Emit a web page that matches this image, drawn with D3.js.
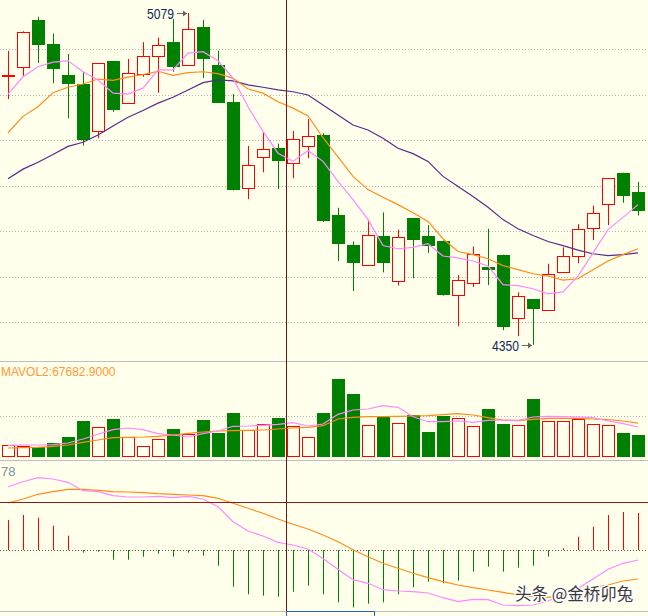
<!DOCTYPE html>
<html><head><meta charset="utf-8">
<script src="https://cdn.jsdelivr.net/npm/d3@7"></script>
<style>html,body{margin:0;padding:0;background:#FFFFEC;overflow:hidden}</style>
</head><body><svg id="c" width="648" height="616"></svg>
<script>
// ---------- DATA ----------
const openArr  = [4940,4960,5064,5011,4943,4923,4820,4974,4881,4945,4985,5015,4964,5048,4965,4884,4695,4763,4782,4749,4787,4811,4636,4570,4526,4588,4491,4629,4590,4579,4459,4486,4521,4548,4409,4450,4427,4510,4545,4607,4659,4728,4686];
const highArr  = [4996,5039,5071,5034,4989,4950,4969,4974,4978,5015,5025,5066,5079,5064,4996,4901,4787,4817,4792,4820,4846,4815,4651,4577,4625,4641,4603,4629,4613,4579,4503,4566,4605,4548,4465,4450,4528,4564,4615,4656,4716,4728,4708];
const lowArr   = [4890,4941,4969,4925,4848,4788,4804,4862,4881,4939,4904,4950,4964,4936,4882,4689,4670,4729,4692,4716,4760,4620,4534,4468,4526,4509,4480,4496,4552,4458,4391,4477,4481,4382,4369,4350,4427,4510,4529,4580,4613,4662,4634];
const closeArr = [4942,5037,5009,4957,4922,4800,4969,4865,4947,4984,5008,4961,5043,4977,4882,4691,4746,4780,4753,4802,4809,4621,4571,4529,4591,4529,4587,4580,4566,4460,4493,4550,4515,4389,4458,4428,4506,4545,4605,4640,4716,4678,4645];
const ma5  = [4901,4939,4961,4971,4974,4950,4932,4903,4901,4914,4954,4954,4991,4994,4974,4936,4873,4819,4771,4753,4777,4753,4709,4669,4625,4568,4561,4564,4572,4545,4541,4534,4523,4482,4480,4473,4462,4466,4501,4552,4603,4630,4658];
const ma10 = [4816,4852,4873,4904,4916,4923,4934,4931,4938,4944,4951,4942,4948,4950,4946,4936,4912,4903,4884,4870,4853,4805,4763,4720,4691,4674,4658,4640,4621,4583,4555,4548,4539,4524,4515,4506,4501,4492,4495,4515,4534,4548,4561];
const ma20 = [4715,4736,4751,4768,4786,4795,4811,4831,4850,4865,4881,4894,4910,4926,4932,4930,4921,4916,4910,4906,4899,4877,4855,4833,4822,4804,4782,4770,4753,4720,4698,4676,4652,4625,4605,4590,4577,4568,4558,4550,4546,4548,4552];
const volume = [24000,22000,19400,28000,40600,72000,60000,76000,39400,22000,36000,56600,46600,74000,48600,88000,54600,65400,78600,62000,40000,88000,156000,126000,63400,80600,67400,83400,50000,82600,78000,61400,96000,66000,63400,116000,71400,71400,75400,65400,63400,48000,44000];
const mavol1 = [23400,24000,24000,24600,28000,36000,45400,54600,58000,54600,46600,44000,40000,46600,52000,61400,62000,63400,65400,68600,62000,66000,85400,94000,96000,102600,99400,80600,70600,70600,72000,69400,73400,74000,73400,80000,81400,80600,80000,78600,72000,66600,60000];
const mavol2 = [18000,18600,19400,21400,24000,29400,34000,38600,39400,40000,41400,44000,47400,50000,52000,52600,53400,54000,56000,58000,59400,62600,76000,79400,80600,80600,81400,82000,82600,84600,86600,84000,78600,74000,72600,75400,77400,77400,77400,76000,74600,72000,67683];
const dif  = [63.6,68.6,72.6,71.3,68,59.6,58.6,54.6,53.3,53.3,54,52.6,54,51.3,43.6,28.6,19.3,14.3,8,5.3,1.3,-8.2,-19,-29.4,-33,-39.4,-40.7,-41.4,-42.7,-47.4,-51.4,-49,-49.4,-54.7,-55.4,-54.7,-50.7,-44.7,-38,-28.7,-19,-13,-9.7];
const dea  = [47.3,51.3,56,58.6,61,61,60,58.6,58.3,57.6,56.6,56,55.3,54.6,52,47,42,37,31.3,26,21.3,15.3,8.6,0.6,-6.4,-13,-18,-23,-27.4,-31.4,-34.7,-37.4,-39.7,-42,-44.7,-46.4,-47,-45.4,-41.4,-37.4,-34.7,-30.7,-28.7];
const macd = [30.3,35.3,32.6,24.6,14.6,-2.4,-1.4,-9.4,-9.4,-6.4,-3.4,-6.4,-2.4,-5.4,-15.4,-36.4,-44,-45.4,-46.4,-41.4,-35.4,-44,-52,-57,-53.4,-52,-44,-37,-31.4,-33,-30.4,-21.4,-16.4,-21.4,-17.4,-15.4,-6.4,2.3,13.6,23.6,35.3,38.3,37.3];
const priceTicks = [5000,4900,4800,4700,4600,4500,4400];
const volTicks = [82000];
const macdCross = 48;
const crossIndex = 18.5;
const mavolLabel = "MAVOL2:67682.9000";
const macdLabel = "78";
const watermark = "头条 @金桥卯兔";

// ---------- DRAW ----------
const W=648,H=616, BG="#FFFFEC", RED="#FF0000", GREEN="#008000";
const PINK="#FF88FF", ORANGE="#FF8C1A", PURPLE="#5A2A8C";
const svg=d3.select('#c');
svg.append('rect').attr('width',W).attr('height',H).attr('fill',BG);
const defs=svg.append('defs');
defs.append('clipPath').attr('id','cpP').append('rect').attr('x',0).attr('y',0).attr('width',W).attr('height',361);
defs.append('clipPath').attr('id','cpV').append('rect').attr('x',0).attr('y',362).attr('width',W).attr('height',98);
defs.append('clipPath').attr('id','cpM').append('rect').attr('x',0).attr('y',461).attr('width',W).attr('height',150);

const n=openArr.length, idx=d3.range(n);
const x=d3.scaleLinear().domain([0,n-1]).range([8,638]);
const yP=d3.scaleLinear().domain([4400,5000]).range([322,49]);
const yV=d3.scaleLinear().domain([0,190000]).range([457,362]);
const yM=d3.scaleLinear().domain([-60,90]).range([610.3,460.3]);
const px=i=>Math.round(x(i))+0.5;

// grid lines
svg.append('g').selectAll('line').data(priceTicks).join('line')
  .attr('x1',0).attr('x2',W).attr('y1',d=>Math.round(yP(d))+0.5).attr('y2',d=>Math.round(yP(d))+0.5)
  .attr('stroke','#B4B4B4').attr('stroke-dasharray','1,2');
svg.append('g').selectAll('line').data(volTicks).join('line')
  .attr('x1',0).attr('x2',W).attr('y1',d=>Math.round(yV(d))+0.5).attr('y2',d=>Math.round(yV(d))+0.5)
  .attr('stroke','#B4B4B4').attr('stroke-dasharray','1,2');
svg.append('line').attr('x1',0).attr('x2',W).attr('y1',Math.round(yM(0))+0.5).attr('y2',Math.round(yM(0))+0.5)
  .attr('stroke','#555').attr('stroke-dasharray','1,2');
// separators
[361.5,460.5,611.5].forEach(y=>svg.append('line').attr('x1',0).attr('x2',W).attr('y1',y).attr('y2',y).attr('stroke','#BEBEBE'));

// ---- price panel ----
const gP=svg.append('g').attr('clip-path','url(#cpP)');
const up=i=>closeArr[i]>=openArr[i];
gP.selectAll('line.wick').data(idx).join('line').attr('class','wick')
  .attr('x1',px).attr('x2',px).attr('y1',i=>yP(highArr[i])).attr('y2',i=>yP(lowArr[i]))
  .attr('stroke',i=>up(i)?RED:GREEN);
gP.selectAll('rect.body').data(idx).join('rect').attr('class','body')
  .each(function(i){
    const yt=Math.round(yP(Math.max(openArr[i],closeArr[i]))), yb=Math.round(yP(Math.min(openArr[i],closeArr[i])));
    const s=d3.select(this), h=Math.max(yb-yt,1);
    if(up(i)) s.attr('x',Math.round(x(i))-6+0.5).attr('y',yt+0.5).attr('width',12).attr('height',h).attr('fill',BG).attr('stroke',RED);
    else s.attr('x',Math.round(x(i))-6).attr('y',yt).attr('width',13).attr('height',h).attr('fill',GREEN);
  });
const lineP=d3.line().x(i=>x(i));
[[ma20,PURPLE],[ma10,ORANGE],[ma5,PINK]].forEach(([arr,col])=>{
  gP.append('path').datum(idx).attr('d',lineP.y(i=>yP(arr[i]))).attr('fill','none').attr('stroke',col).attr('stroke-width',1.2);
});
// annotations
function annot(i,val,ty){
  const ax=x(i), ay=Math.round(ty)+0.5;
  gP.append('text').attr('x',ax-14).attr('y',ay+5).attr('text-anchor','end')
    .attr('font-family','Liberation Sans, Arial, sans-serif').attr('font-size',14)
    .attr('textLength',27).attr('lengthAdjust','spacingAndGlyphs').attr('fill','#0B2B5B').text(String(val));
  gP.append('line').attr('x1',ax-11).attr('x2',ax-1).attr('y1',ay).attr('y2',ay).attr('stroke','#666');
  gP.append('path').attr('d',`M${ax-1},${ay} l-4,-3 l0,6 z`).attr('fill','#666');
}
const hiI=d3.maxIndex(highArr), loI=d3.minIndex(lowArr);
annot(hiI,highArr[hiI],yP(highArr[hiI]));
annot(loI,lowArr[loI],yP(lowArr[loI]));

// ---- volume panel ----
const gV=svg.append('g').attr('clip-path','url(#cpV)');
gV.selectAll('rect').data(idx).join('rect')
  .each(function(i){
    const yt=Math.round(yV(volume[i])), yb=Math.round(yV(0));
    const s=d3.select(this);
    if(up(i)) s.attr('x',Math.round(x(i))-6+0.5).attr('y',yt+0.5).attr('width',12).attr('height',yb-yt-1).attr('fill',BG).attr('stroke',RED);
    else s.attr('x',Math.round(x(i))-6).attr('y',yt).attr('width',13).attr('height',yb-yt).attr('fill',GREEN);
  });
[[mavol2,ORANGE],[mavol1,PINK]].forEach(([arr,col])=>{
  gV.append('path').datum(idx).attr('d',d3.line().x(i=>x(i)).y(i=>yV(arr[i]))).attr('fill','none').attr('stroke',col).attr('stroke-width',1.2);
});
svg.append('text').attr('x',1).attr('y',376).attr('font-family','Liberation Sans, Arial, sans-serif').attr('font-size',12)
  .attr('fill','#FF9933').text(mavolLabel);

// ---- MACD panel ----
const gM=svg.append('g').attr('clip-path','url(#cpM)');
gM.selectAll('line.bar').data(idx).join('line').attr('class','bar')
  .attr('x1',px).attr('x2',px).attr('y1',Math.round(yM(0))).attr('y2',i=>yM(macd[i]))
  .attr('stroke',i=>macd[i]>=0?RED:GREEN);
[[dea,ORANGE],[dif,PINK]].forEach(([arr,col])=>{
  gM.append('path').datum(idx).attr('d',d3.line().x(i=>x(i)).y(i=>yM(arr[i]))).attr('fill','none').attr('stroke',col).attr('stroke-width',1.2);
});
svg.append('text').attr('x',1).attr('y',476).attr('font-family','Liberation Sans, Arial, sans-serif').attr('font-size',13)
  .attr('fill','#8090A0').text(macdLabel);
gM.append('line').attr('x1',0).attr('x2',W).attr('y1',Math.round(yM(macdCross))+0.5).attr('y2',Math.round(yM(macdCross))+0.5).attr('stroke','#8B1A1A');

// crosshair vertical
const cxh=Math.round(x(crossIndex))+0.5;
svg.append('line').attr('x1',cxh).attr('x2',cxh).attr('y1',0).attr('y2',611).attr('stroke','#7B1515');
svg.append('rect').attr('x',cxh).attr('y',611.5).attr('width',88).attr('height',10).attr('fill',BG).attr('stroke','#2266DD');

// watermark
svg.append('text').attr('x',515).attr('y',600).attr('font-family','Noto Sans CJK SC, sans-serif').attr('font-size',16.5)
  .attr('fill','#3A3A3A').attr('stroke','#FFFFFF').attr('stroke-width',2.5).attr('paint-order','stroke').text(watermark);
</script></body></html>
